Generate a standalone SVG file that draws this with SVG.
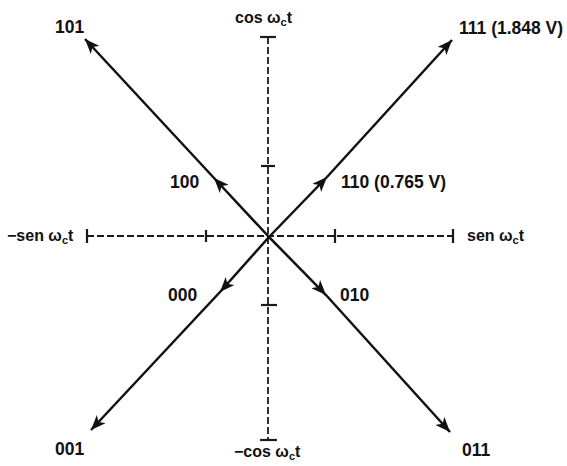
<svg xmlns="http://www.w3.org/2000/svg" width="567" height="466" viewBox="0 0 567 466">
<style>
.axis{stroke:#1a1a1a;stroke-width:1.8;stroke-dasharray:7 3;fill:none}
.tick{stroke:#1a1a1a;stroke-width:2.2;fill:none}
.vec{stroke:#111;stroke-width:2.5;fill:none;marker-mid:url(#ah);marker-end:url(#ah)}
text{font-family:"Liberation Sans",Arial,sans-serif;font-weight:bold;font-size:17.5px;fill:#111}
.ax{font-size:16px}
.sub{font-size:11px}
</style>
<defs>
<marker id="ah" markerUnits="userSpaceOnUse" markerWidth="16" markerHeight="12" refX="15" refY="6" orient="auto">
<path d="M0,0 L15,6 L0,12 L4,6 z" fill="#111"/>
</marker>
</defs>
<rect width="567" height="466" fill="#fff"/>
<g id="axes">
<line class="axis" x1="268" y1="37" x2="268" y2="440"/>
<line class="axis" x1="87" y1="236" x2="453" y2="236"/>
<line class="tick" x1="260" y1="37" x2="276" y2="37"/>
<line class="tick" x1="260" y1="440" x2="277" y2="440"/>
<line class="tick" x1="87" y1="229" x2="87" y2="243"/>
<line class="tick" x1="453" y1="229" x2="453" y2="243"/>
<line class="tick" x1="261" y1="166" x2="275" y2="166"/>
<line class="tick" x1="261" y1="305" x2="277" y2="305"/>
<line class="tick" x1="206" y1="230" x2="206" y2="242"/>
<line class="tick" x1="335" y1="229" x2="335" y2="243"/>
</g>
<g id="connectors">
<path class="vec" d="M269,237 L214,178 L85,39"/>
<path class="vec" d="M269,237 L327,177 L452,40"/>
<path class="vec" d="M269,237 L220,292 L91,430"/>
<path class="vec" d="M269,237 L326,295 L450,432"/>
</g>
<g id="axis-labels">
<text class="ax" x="235" y="23">cos ω<tspan class="sub" dy="3">c</tspan><tspan dy="-3">t</tspan></text>
<text class="ax" x="234" y="457">−cos ω<tspan class="sub" dy="3">c</tspan><tspan dy="-3">t</tspan></text>
<text class="ax" x="7" y="241">−sen ω<tspan class="sub" dy="3">c</tspan><tspan dy="-3">t</tspan></text>
<text class="ax" x="467" y="241">sen ω<tspan class="sub" dy="3">c</tspan><tspan dy="-3">t</tspan></text>
</g>
<g id="n101"><text x="55" y="33">101</text></g>
<g id="n100"><text x="170" y="188">100</text></g>
<g id="n111"><text x="459" y="34">111 (1.848 V)</text></g>
<g id="n110"><text x="341" y="188">110 (0.765 V)</text></g>
<g id="n000"><text x="168" y="301">000</text></g>
<g id="n001"><text x="55" y="455">001</text></g>
<g id="n010"><text x="340" y="301">010</text></g>
<g id="n011"><text x="462" y="456">011</text></g>
</svg>
